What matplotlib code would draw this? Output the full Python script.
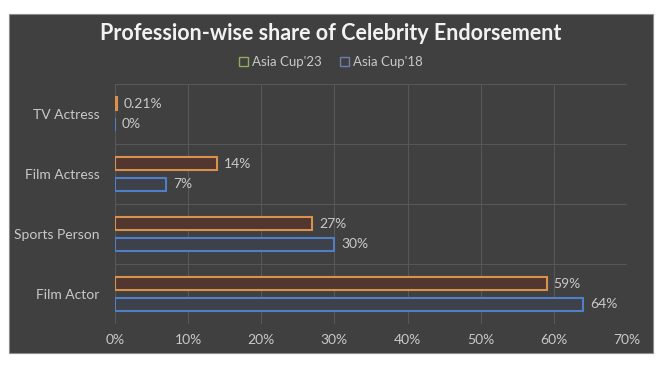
import numpy as np
import matplotlib
matplotlib.use("Agg")
from matplotlib import pyplot as plt
from matplotlib.patches import Rectangle, Patch

categories = ["TV Actress", "Film Actress", "Sports Person", "Film Actor"]
cup23 = [0.21, 14, 27, 59]
cup18 = [0, 7, 30, 64]
labels23 = ["0.21%", "14%", "27%", "59%"]
labels18 = ["0%", "7%", "30%", "64%"]
xticks = [0, 10, 20, 30, 40, 50, 60, 70]

bg = "#404040"
txt = "#c9c9c9"
grid = "#575757"

W, H = 665, 366
fig = plt.figure(figsize=(W / 100, H / 100), dpi=100, facecolor="white")
plt.rcParams['font.family'] = ["Lato", "DejaVu Sans"]

# dark panel
fig.patches.append(Rectangle((9 / W, 1 - 353 / H), 644 / W, 339 / H,
                             transform=fig.transFigure, facecolor=bg,
                             edgecolor="#8a8a8a", linewidth=0.8, zorder=-10))

ax = fig.add_axes([115 / W, 1 - 324 / H, 512 / W, 240 / H])
ax.set_facecolor("none")

# categories from top to bottom
y = np.arange(len(categories))[::-1].astype(float)
h = 0.22
off = 0.17
ax.barh(y + off, cup23, height=h, facecolor="#51372f", edgecolor="#d9924e",
        linewidth=1.5, zorder=3)
ax.barh(y - off, cup18, height=h, facecolor="#3e4149", edgecolor="#4f7fc6",
        linewidth=1.5, zorder=3)

for yy, v, s in zip(y, cup23, labels23):
    ax.text(v + 0.95, yy + off, s, color=txt, fontsize=10, va="center", ha="left")
for yy, v, s in zip(y, cup18, labels18):
    ax.text(v + 0.95, yy - off, s, color=txt, fontsize=10, va="center", ha="left")

ax.set_xlim(0, 70)
ax.set_ylim(-0.5, len(categories) - 0.5)
ax.set_xticks(xticks)
ax.set_xticklabels([f"{t}%" for t in xticks])
ax.set_yticks(y)
ax.set_yticklabels(categories)
ax.set_yticks(np.arange(-0.5, len(categories), 1.0), minor=True)
ax.tick_params(axis="both", which="both", length=0, colors=txt, labelsize=10)
ax.tick_params(axis="x", pad=7)
ax.tick_params(axis="y", pad=11)
ax.grid(axis="x", color=grid, linewidth=0.8, zorder=0)
ax.grid(axis="y", which="minor", color=grid, linewidth=0.8, zorder=0)
for s in ax.spines.values():
    s.set_visible(False)

fig.text(331 / W, 1 - 34 / H, "Profession-wise share of Celebrity Endorsement",
         ha="center", va="center", color="#f2f2f2", fontsize=15.5, fontweight="bold")

handles = [Patch(facecolor="none", edgecolor="#8fae5a", linewidth=1.0, label="Asia Cup'23"),
           Patch(facecolor="none", edgecolor="#6a80b0", linewidth=1.0, label="Asia Cup'18")]
fig.legend(handles=handles, loc="center", bbox_to_anchor=(331 / W, 1 - 62 / H),
           ncol=2, frameon=False, fontsize=9.5, labelcolor=txt,
           handlelength=0.7, handleheight=0.7, handletextpad=0.3, columnspacing=1.4)

fig.savefig("out.png", dpi=100, facecolor="white")
